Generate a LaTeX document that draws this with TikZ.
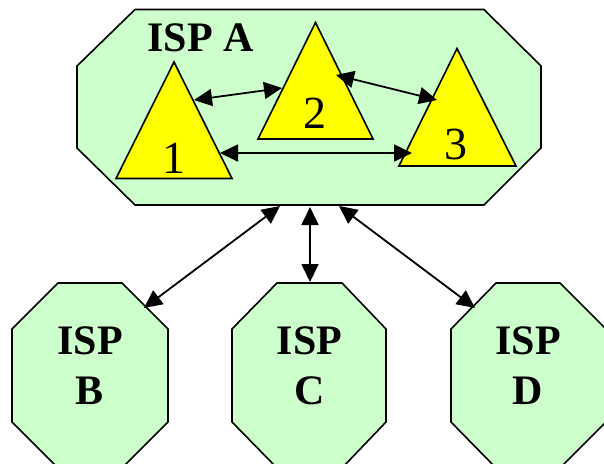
\documentclass[tikz,border=0pt]{standalone}
\usepackage{fontspec}
\setmainfont{Liberation Serif}
\usetikzlibrary{arrows.meta}
\definecolor{ispgreen}{HTML}{CCFFCC}
\definecolor{nodeyellow}{HTML}{FFFF00}
\tikzset{
  ispshape/.style={draw=black, fill=ispgreen, line width=1.6pt, line join=miter},
  trishape/.style={draw=black, fill=nodeyellow, line width=1.6pt, line join=miter},
  isplabel/.style={font=\fontsize{42}{50}\selectfont\bfseries, align=center, inner sep=0pt},
  numlabel/.style={font=\fontsize{46}{50}\selectfont, anchor=base, inner sep=0pt},
  link/.style={line width=1.8pt, {Triangle[length=18pt 0 0,width=17pt 0 0]}-{Triangle[length=18pt 0 0,width=17pt 0 0]}}
}
\begin{document}
\begin{tikzpicture}[x=1pt, y=-1pt]
\useasboundingbox (0,0) rectangle (604,463);
\clip (0,0) rectangle (604,463);
% ISP A
\draw[ispshape] (135,9.5) -- (484,9.5) -- (541,66) -- (541,148) -- (484,205) -- (135,205) -- (77,148) -- (77,66) -- cycle;
\node[isplabel, anchor=base] (la) at (200.5,51) {ISP A};
% triangles
\draw[trishape] (174,62) -- (232,178.5) -- (116,178.5) -- cycle;
\draw[trishape] (315.5,22.5) -- (373,139) -- (258,139) -- cycle;
\draw[trishape] (457,48.5) -- (516,166) -- (399,166) -- cycle;
\node[numlabel] (n1) at (174,173) {1};
\node[numlabel] (n2) at (314.5,128) {2};
\node[numlabel] (n3) at (456,159) {3};
% ISP B, C, D
\draw[ispshape] (58,283) -- (122,283) -- (168,329) -- (168,422) -- (122,468) -- (58,468) -- (12,422) -- (12,329) -- cycle;
\draw[ispshape] (277,283) -- (342,283) -- (386,329) -- (386,422) -- (342,468) -- (277,468) -- (232,422) -- (232,329) -- cycle;
\draw[ispshape] (496,283) -- (560,283) -- (606,329) -- (606,422) -- (560,468) -- (496,468) -- (451,422) -- (451,329) -- cycle;
\node[isplabel] (lb) at (90,366) {ISP\\B};
\node[isplabel] (lc) at (309.5,366) {ISP\\C};
\node[isplabel] (ld) at (528,366) {ISP\\D};
% connector end points
\coordinate (t1a) at (194,100);
\coordinate (t2a) at (282,88);
\coordinate (t2b) at (336,75);
\coordinate (t3a) at (437,100);
\coordinate (t1b) at (220,153);
\coordinate (t3b) at (412,153);
\coordinate (aB) at (280,206);
\coordinate (bA) at (144,308);
\coordinate (aC) at (310,207);
\coordinate (cA) at (310,282);
\coordinate (aD) at (339,206);
\coordinate (dA) at (475,308);
% connectors
\draw[link] (t1a) -- (t2a);
\draw[link] (t2b) -- (t3a);
\draw[link] (t1b) -- (t3b);
\draw[link] (aB) -- (bA);
\draw[link] (aC) -- (cA);
\draw[link] (aD) -- (dA);
\end{tikzpicture}
\end{document}
